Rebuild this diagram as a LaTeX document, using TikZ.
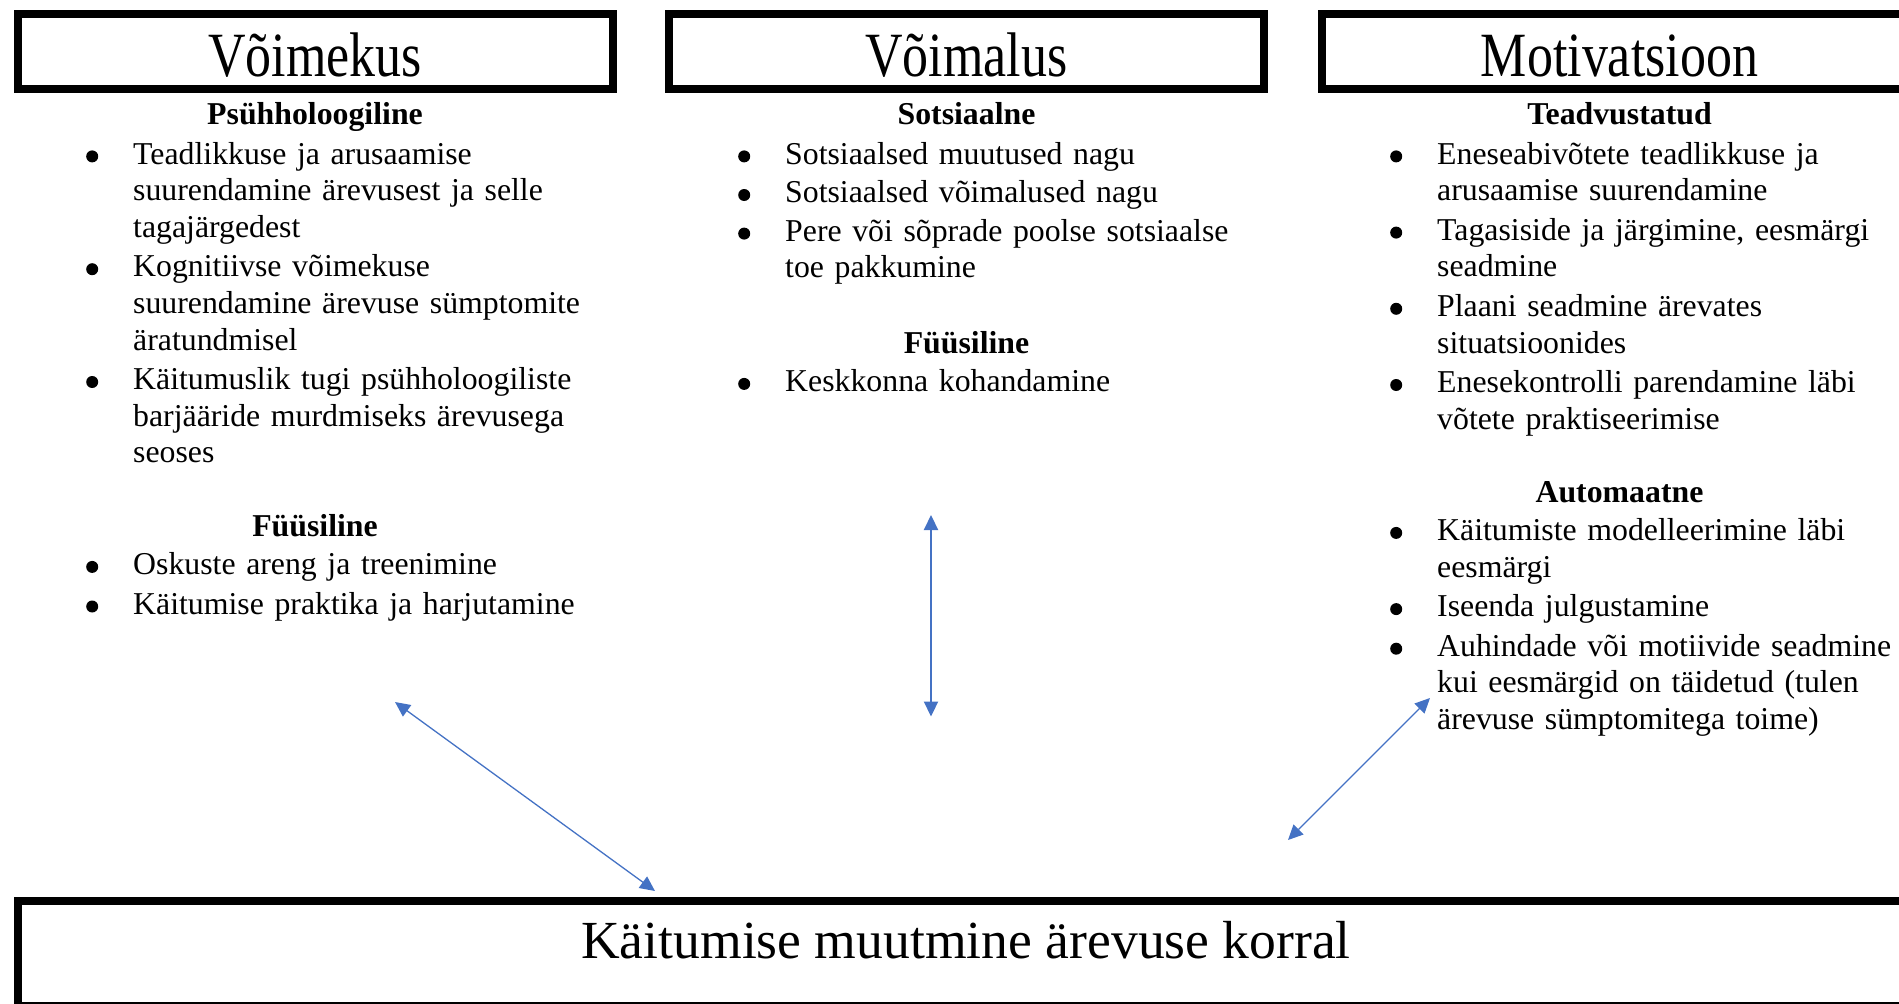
\documentclass[tikz,border=0pt]{standalone}
\usepackage{fontspec}
\setmainfont{Liberation Serif}
\usepackage{graphicx}
\usetikzlibrary{arrows.meta}
\definecolor{arrowblue}{HTML}{4472C4}
\newcommand\bodyfont{\fontsize{31.8}{36.6}\selectfont}
\newcommand\bul{\tikz[baseline=0pt]\fill[black] (0pt,7.6pt) circle (6pt);}
\newcommand\bitem[1]{\noindent\llap{\bul\hspace{35pt}}#1\par}
\tikzset{
  hbox/.style={draw=black, line width=8pt, inner sep=0pt, outer sep=0pt},
  titletext/.style={anchor=base, inner sep=0pt, font=\fontsize{63}{70}\selectfont},
  bigtext/.style={anchor=base, inner sep=0pt, font=\fontsize{53.6}{60}\selectfont},
  head/.style={anchor=base, inner sep=0pt, font=\fontsize{31.8}{36.6}\selectfont\bfseries},
  listtext/.style={anchor=base west, inner sep=0pt, text width=620pt, align=left, font=\bodyfont},
  link/.style={draw=arrowblue, line width=1.3pt, {Triangle[length=15pt,width=14pt]}-{Triangle[length=15pt,width=14pt]}}
}
\begin{document}
\begin{tikzpicture}[x=1pt,y=-1pt]
\useasboundingbox (0,0) rectangle (1899,1004);
% top boxes
\node[hbox, minimum width=595.5pt, minimum height=75pt] (b1) at (315.25,51.5) {};
\node[hbox, minimum width=595pt, minimum height=75pt] (b2) at (966.5,51.5) {};
\node[hbox, minimum width=595pt, minimum height=75pt] (b3) at (1619.5,51.5) {};
\node[titletext] (t1) at (315,76) {\scalebox{0.825}[1]{Võimekus}};
\node[titletext] (t2) at (966.5,76) {\scalebox{0.825}[1]{Võimalus}};
\node[titletext] (t3) at (1619.5,76) {\scalebox{0.825}[1]{Motivatsioon}};
% bottom box
\node[hbox, minimum width=1902.5pt, minimum height=105pt] (bb) at (968.75,953) {};
\node[bigtext] (bt) at (966,958) {Käitumise muutmine ärevuse korral};
% column 1
\node[head] (h1a) at (315,124.5) {Psühholoogiline};
\node[listtext] (l1a) at (133,164) {\setlength\parskip{3pt}%
\bitem{Teadlikkuse ja arusaamise\\suurendamine ärevusest ja selle\\tagajärgedest}%
\bitem{Kognitiivse võimekuse\\suurendamine ärevuse sümptomite\\äratundmisel}%
\bitem{Käitumuslik tugi psühholoogiliste\\barjääride murdmiseks ärevusega\\seoses}};
\node[head] (h1b) at (315,536.5) {Füüsiline};
\node[listtext] (l1b) at (133,574.5) {\setlength\parskip{3pt}%
\bitem{Oskuste areng ja treenimine}%
\bitem{Käitumise praktika ja harjutamine}};
% column 2
\node[head] (h2a) at (966.5,124.5) {Sotsiaalne};
\node[listtext] (l2a) at (785,164) {\setlength\parskip{2pt}%
\bitem{Sotsiaalsed muutused nagu}%
\bitem{Sotsiaalsed võimalused nagu}%
\bitem{Pere või sõprade poolse sotsiaalse\\toe pakkumine}};
\node[head] (h2b) at (966.5,353) {Füüsiline};
\node[listtext] (l2b) at (785,391.5) {\bitem{Keskkonna kohandamine}};
% column 3
\node[head] (h3a) at (1619.5,124.5) {Teadvustatud};
\node[listtext] (l3a) at (1437,164) {\setlength\parskip{3pt}%
\bitem{Eneseabivõtete teadlikkuse ja\\arusaamise suurendamine}%
\bitem{Tagasiside ja järgimine, eesmärgi\\seadmine}%
\bitem{Plaani seadmine ärevates\\situatsioonides}%
\bitem{Enesekontrolli parendamine läbi\\võtete praktiseerimise}};
\node[head] (h3b) at (1619.5,502.5) {Automaatne};
\node[listtext] (l3b) at (1437,540.5) {\setlength\parskip{3pt}%
\bitem{Käitumiste modelleerimine läbi\\eesmärgi}%
\bitem{Iseenda julgustamine}%
\bitem{Auhindade või motiivide seadmine\\kui eesmärgid on täidetud (tulen\\ärevuse sümptomitega toime)}};
% connectors
\coordinate (a1s) at (395,702);
\coordinate (a1e) at (655,891);
\coordinate (a2s) at (931,515);
\coordinate (a2e) at (931,716.5);
\coordinate (a3s) at (1430,698);
\coordinate (a3e) at (1288,840);
\draw[link] (a1s) -- (a1e);
\draw[link, line width=2.2pt] (a2s) -- (a2e);
\draw[link] (a3s) -- (a3e);
\end{tikzpicture}
\end{document}
